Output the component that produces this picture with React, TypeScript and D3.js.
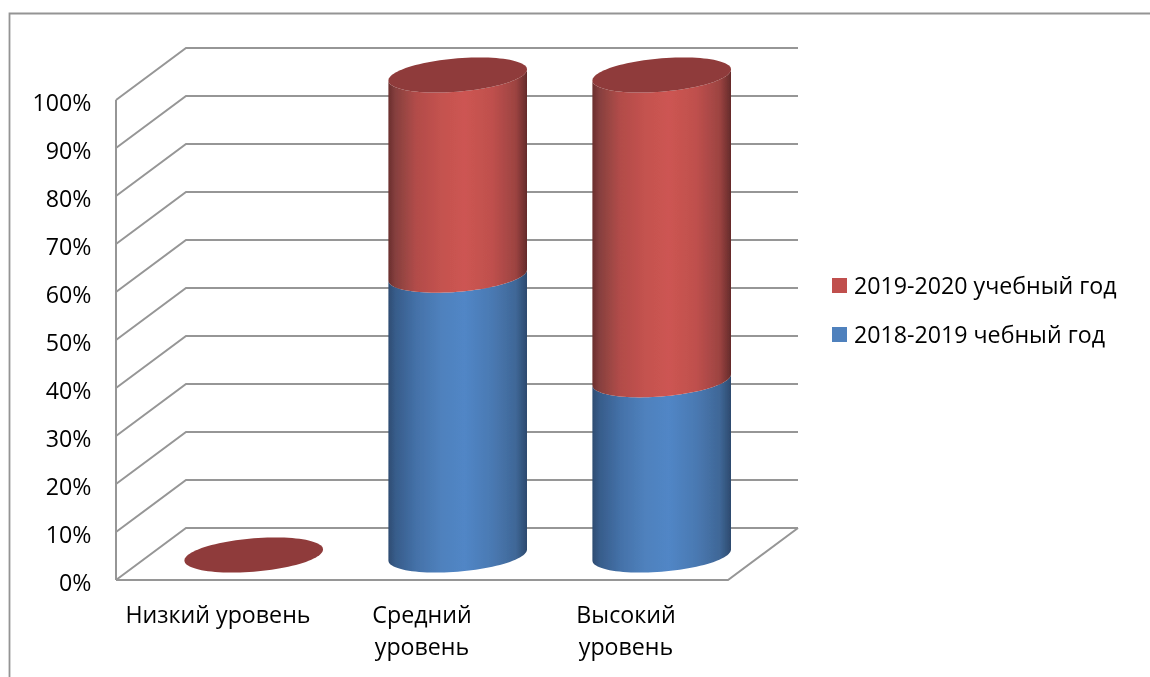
import React from "react";
import * as d3 from "d3";

const categories = ["Низкий уровень", "Средний уровень", "Высокий уровень"];
const categoryLines = [["Низкий уровень"], ["Средний", "уровень"], ["Высокий", "уровень"]];
const series2018 = [0, 58.3, 36.5];
const series2019 = [0, 41.7, 63.5];
const seriesNames = ["2019-2020 учебный год", "2018-2019 чебный год"];
const tickValues = [0, 10, 20, 30, 40, 50, 60, 70, 80, 90, 100];

const FONT = "'Open Sans', sans-serif";
const GRID = "#969696";

const y = d3.scaleLinear().domain([0, 100]).range([580, 100]);
const x = d3.scaleBand<string>().domain(categories).range([116, 728]);
const depthX = 70;
const depthY = 52;
const RX = 69.3;
const SKEW = 5.5;
const RY = 16.7;
const BASE_OFFSET = 25;

const rows = categories.map((c, i) => ({ c, a: series2018[i], b: series2019[i] }));
const stacked = d3.stack<any>().keys(["a", "b"])(rows);

const ang = (from: number, to: number, n = 48) =>
  d3.range(n + 1).map((i) => from + ((to - from) * i) / n);
const pt = (cx: number, cy: number, t: number): [number, number] => [
  cx + RX * Math.cos(t),
  cy - SKEW * Math.cos(t) + RY * Math.sin(t),
];
const line = d3.line();

const capPath = (cx: number, cy: number) =>
  line(ang(0, 2 * Math.PI, 96).map((t) => pt(cx, cy, t))) + "Z";

const sidePath = (cx: number, y0: number, y1: number) =>
  line([
    ...ang(0, Math.PI).map((t) => pt(cx, y1, t)),
    ...ang(Math.PI, 0).map((t) => pt(cx, y0, t)),
  ]) + "Z";

const redStops: [number, string][] = [
  [0, "#6a2e2d"], [0.05, "#86403e"], [0.2, "#b24c49"], [0.38, "#c4524f"],
  [0.55, "#cd5552"], [0.75, "#bf504d"], [0.92, "#9c4341"], [1, "#642b2a"],
];
const blueStops: [number, string][] = [
  [0, "#2e4c72"], [0.05, "#375c8a"], [0.2, "#4471a8"], [0.38, "#4f81bd"],
  [0.55, "#5186c6"], [0.75, "#4a79b2"], [0.92, "#3f6797"], [1, "#2d4a6e"],
];
const gradients = [
  { id: "blue", stops: blueStops },
  { id: "red", stops: redStops },
];
const legendColors = ["#c0504d", "#4f81bd"];

export default function App() {
  return (
    <svg
      width={1150}
      height={677}
      style={{ position: "absolute", left: 0, top: 0, background: "#fff", display: "block" }}
      fontFamily={FONT}
    >
      <defs>
        <filter id="soft" x="-20" y="-20" width="1200" height="720" filterUnits="userSpaceOnUse">
          <feGaussianBlur stdDeviation={0.45} />
        </filter>
        {gradients.map((g) => (
          <linearGradient key={g.id} id={g.id} x1="0" x2="1" y1="0" y2="0">
            {g.stops.map(([o, c]) => (
              <stop key={o} offset={o} stopColor={c} />
            ))}
          </linearGradient>
        ))}
      </defs>
      <g filter="url(#soft)">
        <path d="M9.5,690V13.5H1165" fill="none" stroke="#949494" strokeWidth={1.8} />

        <g fill="none" stroke={GRID} strokeWidth={2}>
          <line x1={116} x2={116} y1={y(100)} y2={y(0)} />
          {tickValues.map((t) => (
            <polyline
              key={t}
              points={`116,${y(t)} ${116 + depthX},${y(t) - depthY} ${728 + depthX},${y(t) - depthY}`}
            />
          ))}
          <polyline points={`116,580 728,580 ${728 + depthX},${580 - depthY}`} />
        </g>

        {tickValues.map((t) => (
          <text key={t} x={91.5} y={y(t)} dy={10.6} textAnchor="end" fontSize={23.2} fill="#000">
            {t}%
          </text>
        ))}

        {categories.map((c, i) => {
          const cx = (x(c) as number) + x.bandwidth() / 2 + depthX / 2 + 0.7;
          const cy = (v: number) => y(v) - BASE_OFFSET;
          const top = stacked[1][i][1];
          return (
            <g key={c}>
              {stacked.map((s, k) => {
                const [v0, v1] = s[i];
                return v1 > v0 ? (
                  <path key={k} d={sidePath(cx, cy(v0), cy(v1))} fill={`url(#${gradients[k].id})`} />
                ) : null;
              })}
              <path d={capPath(cx, cy(top))} fill="#8f3b3a" />
            </g>
          );
        })}

        {categories.map((c, i) => (
          <text key={c} textAnchor="middle" fontSize={23.2} fill="#000">
            {categoryLines[i].map((l, j) => (
              <tspan key={l} x={(x(c) as number) + x.bandwidth() / 2} y={623 + j * 32}>
                {l}
              </tspan>
            ))}
          </text>
        ))}

        {seriesNames.map((n, i) => (
          <g key={n}>
            <rect x={832} y={278 + i * 49} width={15} height={15} fill={legendColors[i]} />
            <text x={854} y={293.5 + i * 49} fontSize={23.2} fill="#000">
              {n}
            </text>
          </g>
        ))}
      </g>
    </svg>
  );
}
